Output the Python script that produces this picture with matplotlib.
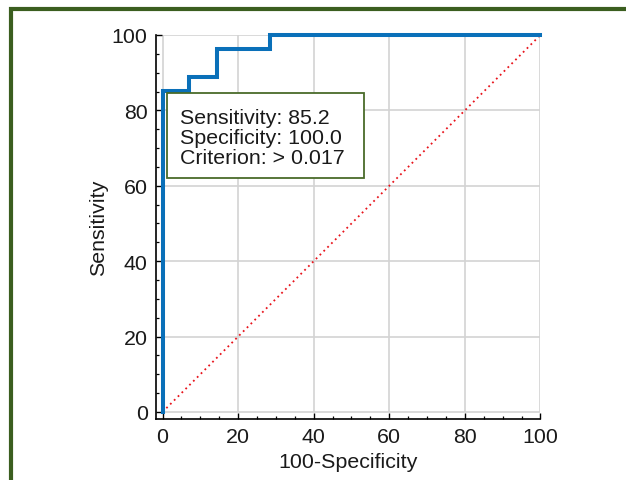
import matplotlib
matplotlib.use("Agg")
import matplotlib.pyplot as plt
from matplotlib.ticker import MultipleLocator
from matplotlib.patches import Rectangle
from matplotlib.lines import Line2D

# ROC curve data (100-Specificity, Sensitivity)
fpr = [0, 0, 7.14, 7.14, 14.29, 14.29, 28.57, 28.57, 100]
tpr = [0, 85.2, 85.2, 88.9, 88.9, 96.3, 96.3, 100, 100]
ref_x = [0, 100]
ref_y = [0, 100]
major_ticks = [0, 20, 40, 60, 80, 100]
info_lines = ["Sensitivity: 85.2", "Specificity: 100.0", "Criterion: > 0.017"]

plt.rcParams['font.family'] = ['Liberation Sans', 'DejaVu Sans']
fs = 15.4

fig = plt.figure(figsize=(6.26, 4.81), dpi=100)
fig.patch.set_facecolor('white')
ax = fig.add_axes([0.2492, 0.1268, 0.8634 - 0.2492, 0.9252 - 0.1268])

ax.set_xlim(-1.72, 100)
ax.set_ylim(-1.86, 100)

gridc = '#d3d3d3'
ax.hlines(major_ticks, 0, 100, colors=gridc, lw=1.2, zorder=1)
ax.vlines(major_ticks, 0, 100, colors=gridc, lw=1.2, zorder=1)

ax.plot(ref_x, ref_y, color='#e8141c', lw=1.3, ls=(0, (1, 2)), zorder=2)
ax.plot(fpr, tpr, color='#0a70b9', lw=2.9, zorder=3, solid_joinstyle='miter', clip_on=False)

for s in ['top', 'right']:
    ax.spines[s].set_visible(False)
for s in ['left', 'bottom']:
    ax.spines[s].set_linewidth(1.2)

ax.set_xticks(major_ticks)
ax.set_yticks(major_ticks)
ax.xaxis.set_minor_locator(MultipleLocator(5))
ax.yaxis.set_minor_locator(MultipleLocator(5))
ax.tick_params(which='major', direction='in', length=4, width=1, labelsize=fs, pad=6,
               labelcolor='#1a1a1a')
ax.tick_params(which='minor', direction='in', length=2.3, width=0.9)

ax.set_xlabel('100-Specificity', fontsize=fs, labelpad=4, color='#1a1a1a')
ax.set_ylabel('Sensitivity', fontsize=fs, labelpad=3, color='#1a1a1a')

# info box
ax.add_patch(Rectangle((1.25, 62.1), 53.2 - 1.25, 84.5 - 62.1, facecolor='white',
                       edgecolor='#4a6b2a', lw=1.3, zorder=4))
for i, line in enumerate(info_lines):
    ax.text(4.76, 78.0 - i * 5.3, line, fontsize=fs, va='center', ha='left', zorder=5,
            color='#1a1a1a')

# green frame
fig.add_artist(Line2D([11.2 / 626, 11.2 / 626, 1.0], [0.0, 1 - 10.3 / 481, 1 - 10.3 / 481],
                      transform=fig.transFigure, color='#3b5e1f', lw=3.0,
                      solid_joinstyle='miter', solid_capstyle='projecting'))

fig.savefig('out.png', dpi=100)
